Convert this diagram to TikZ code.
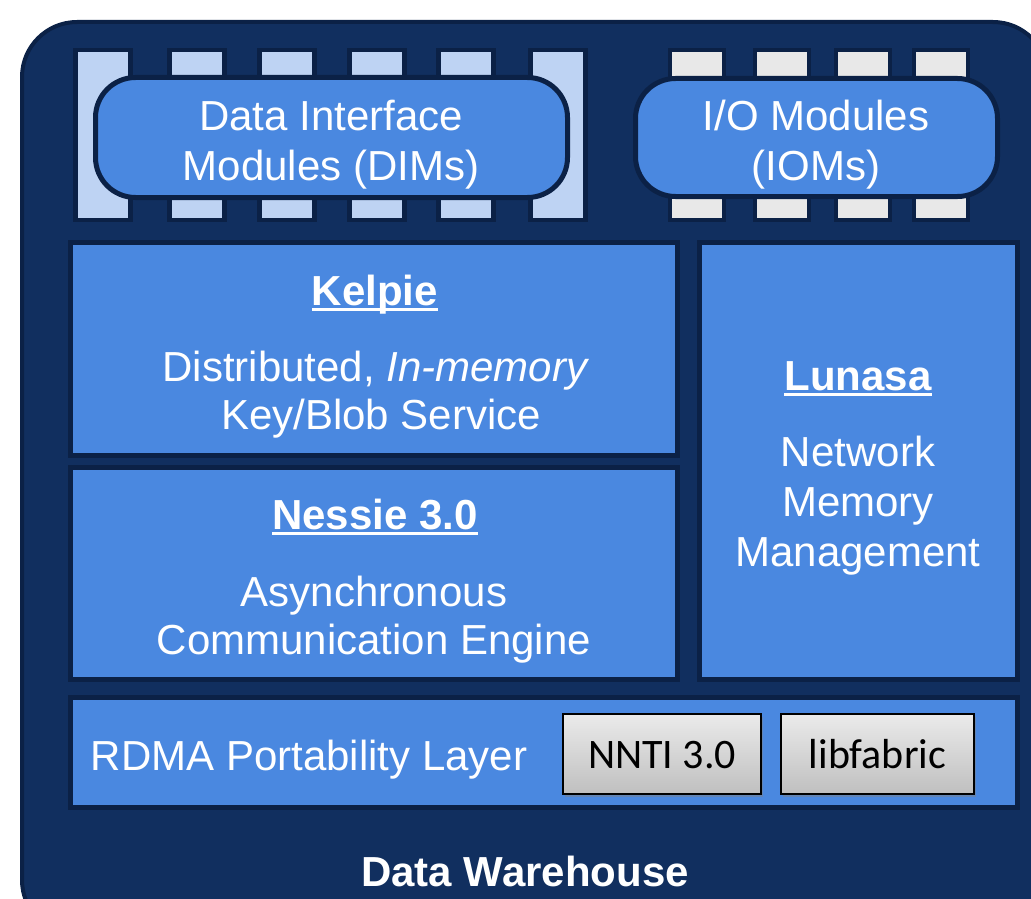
\documentclass[tikz,border=0pt]{standalone}
\usepackage{fontspec}
\setmainfont{Liberation Sans}
\newfontfamily\calib{Carlito}
\usetikzlibrary{shadows}
\definecolor{outerfill}{HTML}{112F5F}
\definecolor{darkline}{HTML}{0B2146}
\definecolor{boxblue}{HTML}{4A88E0}
\definecolor{pinblue}{HTML}{BED3F3}
\definecolor{pingray}{HTML}{E8E8E8}
\newcommand\myul[1]{\setbox0\hbox{#1}\rlap{\rule[-6pt]{\wd0}{3pt}}\box0}
\tikzset{
  outerbox/.style={draw=darkline, line width=4pt, fill=outerfill, rounded corners=55pt},
  pinD/.style={draw=darkline, line width=4.5pt, fill=pinblue, minimum width=55, minimum height=170, inner sep=0pt},
  pinI/.style={draw=darkline, line width=4.5pt, fill=pingray, minimum width=54, minimum height=170, inner sep=0pt},
  module/.style={draw=darkline, line width=5pt, fill=boxblue, rounded corners=40pt, inner sep=0pt},
  layer/.style={draw=darkline, line width=5pt, fill=boxblue, inner sep=0pt},
  lib/.style={draw=black, line width=1.5pt, top color=white!92!black, bottom color=black!25, inner sep=0pt,
     drop shadow={shadow xshift=2pt, shadow yshift=-3pt, opacity=0.45}},
  txt/.style={text=white, anchor=base, inner sep=0pt, font=\fontsize{42}{49}\selectfont},
  libtxt/.style={text=black, anchor=base, inner sep=0pt, font=\calib\fontsize{42}{49}\selectfont},
}
\begin{document}
\begin{tikzpicture}[x=1pt,y=-1pt]
\useasboundingbox (0,0) rectangle (1031,899);
\clip (0,0) rectangle (1031,899);
\draw[outerbox] (22,22) rectangle (1048,935);
% DIM pins
\foreach \i/\x in {1/103,2/197,3/287,4/377,5/466,6/558}
  \node[pinD] (dp\i) at (\x,135) {};
% IOM pins
\foreach \i/\x in {1/697,2/782,3/863,4/941}
  \node[pinI] (ip\i) at (\x,135) {};
% modules
\node[module, minimum width=472, minimum height=120] (dim) at (331.5,137.5) {};
\node[module, minimum width=362, minimum height=118] (iom) at (816.5,137.5) {};
\node[txt] (dimt1) at (331,130) {Data Interface};
\node[txt] (dimt2) at (331,180) {Modules (DIMs)};
\node[txt] (iomt1) at (816,130) {I/O Modules};
\node[txt] (iomt2) at (816,180) {(IOMs)};
% layers
\node[layer, minimum width=607, minimum height=213] (kelpie) at (374,349) {};
\node[layer, minimum width=607, minimum height=212] (nessie) at (374,573.5) {};
\node[layer, minimum width=318, minimum height=437] (lunasa) at (858.5,461) {};
\node[layer, minimum width=947, minimum height=110] (rdma) at (544,752.5) {};
% Kelpie text
\node[txt] (kt) at (375,305) {\myul{\textbf{Kelpie}}};
\node[txt] (k1) at (376,381) {Distributed, \textit{In-memory}};
\node[txt] (k2) at (381,429) {Key/Blob Service};
% Nessie text
\node[txt] (nt) at (375,529) {\myul{\textbf{Nessie 3.0}}};
\node[txt] (n1) at (374,606) {Asynchronous};
\node[txt] (n2) at (374,654) {Communication Engine};
% Lunasa text
\node[txt] (lt) at (858,390) {\myul{\textbf{Lunasa}}};
\node[txt] (l1) at (858,466) {Network};
\node[txt] (l2) at (858,516) {Memory};
\node[txt] (l3) at (858,566) {Management};
% RDMA
\node[txt] (rt) at (309,770) {RDMA Portability Layer};
\node[lib, minimum width=198, minimum height=80] (nnti) at (662,754) {};
\node[lib, minimum width=193, minimum height=80] (libf) at (877.5,754) {};
\node[libtxt] (nntit) at (662,768) {NNTI 3.0};
\node[libtxt] (libft) at (877.5,768) {libfabric};
% title
\node[txt, font=\bfseries\fontsize{42}{48}\selectfont] (dw) at (525,886) {Data Warehouse};
\end{tikzpicture}
\end{document}
